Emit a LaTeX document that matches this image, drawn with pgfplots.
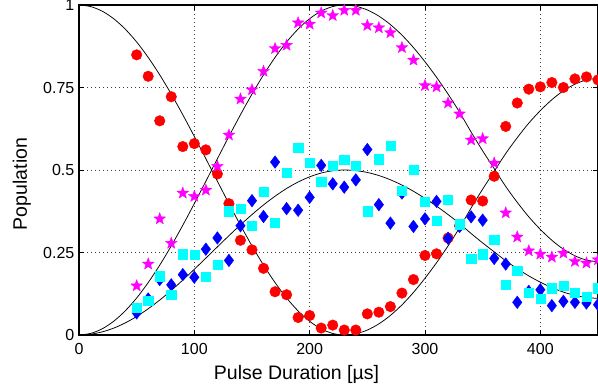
\documentclass[border=0pt]{standalone}
\usepackage{fontspec}
\setmainfont{Liberation Sans}
\usepackage{pgfplots}
\usepackage{pgfplotstable}
\pgfplotsset{compat=1.18}
\definecolor{mred}{RGB}{255,0,0}
\definecolor{mmag}{RGB}{255,0,255}
\definecolor{mblue}{RGB}{0,0,255}
\definecolor{mcyan}{RGB}{0,255,255}
\pgfdeclareplotmark{fstar}{%
  \pgfpathmoveto{\pgfqpointpolar{90}{\pgfplotmarksize}}%
  \pgfpathlineto{\pgfqpointpolar{126}{0.42\pgfplotmarksize}}%
  \pgfpathlineto{\pgfqpointpolar{162}{\pgfplotmarksize}}%
  \pgfpathlineto{\pgfqpointpolar{198}{0.42\pgfplotmarksize}}%
  \pgfpathlineto{\pgfqpointpolar{234}{\pgfplotmarksize}}%
  \pgfpathlineto{\pgfqpointpolar{270}{0.42\pgfplotmarksize}}%
  \pgfpathlineto{\pgfqpointpolar{306}{\pgfplotmarksize}}%
  \pgfpathlineto{\pgfqpointpolar{342}{0.42\pgfplotmarksize}}%
  \pgfpathlineto{\pgfqpointpolar{18}{\pgfplotmarksize}}%
  \pgfpathlineto{\pgfqpointpolar{54}{0.42\pgfplotmarksize}}%
  \pgfpathclose
  \pgfusepathqfillstroke
}
\pgfplotstableread{
x red mag blue cyan
50 0.849 0.149 0.067 0.082
60 0.784 0.215 0.109 0.105
70 0.649 0.352 0.168 0.178
80 0.722 0.278 0.152 0.122
90 0.571 0.430 0.183 0.245
100 0.580 0.420 0.175 0.243
110 0.561 0.439 0.260 0.176
120 0.488 0.511 0.294 0.213
130 0.398 0.606 0.226 0.375
140 0.287 0.715 0.331 0.382
150 0.258 0.743 0.407 0.332
160 0.202 0.799 0.359 0.435
170 0.131 0.868 0.524 0.340
180 0.122 0.878 0.383 0.492
190 0.053 0.946 0.378 0.567
200 0.059 0.942 0.417 0.522
210 0.021 0.976 0.514 0.464
220 0.030 0.968 0.458 0.512
230 0.015 0.984 0.448 0.532
240 0.015 0.984 0.470 0.513
250 0.064 0.938 0.562 0.375
260 0.069 0.931 0.395 0.533
270 0.086 0.916 0.339 0.574
280 0.127 0.871 0.430 0.437
290 0.168 0.833 0.329 0.501
300 0.241 0.756 0.352 0.403
310 0.246 0.752 0.405 0.347
320 0.294 0.703 0.293 0.410
330 0.331 0.670 0.329 0.336
340 0.409 0.591 0.358 0.231
350 0.406 0.595 0.348 0.245
360 0.481 0.521 0.232 0.289
370 0.632 0.370 0.215 0.152
380 0.703 0.297 0.099 0.196
390 0.745 0.255 0.132 0.127
400 0.752 0.245 0.137 0.109
410 0.765 0.236 0.089 0.142
420 0.750 0.248 0.102 0.149
430 0.776 0.223 0.099 0.127
440 0.782 0.218 0.097 0.117
450 0.773 0.228 0.092 0.142
}\pts
\pgfplotstableread{
x A B C
0 1.0 0 0
10 0.9953 0.0047 0.0024
20 0.9815 0.0185 0.0093
30 0.9586 0.0414 0.0207
40 0.9272 0.0728 0.0364
50 0.8879 0.1121 0.0561
60 0.8412 0.1588 0.0794
70 0.7883 0.2117 0.1059
80 0.7300 0.2700 0.1350
90 0.6674 0.3326 0.1663
100 0.6017 0.3983 0.1992
110 0.5341 0.4659 0.2330
120 0.4659 0.5341 0.2671
130 0.3983 0.6017 0.3009
140 0.3326 0.6674 0.3337
150 0.2700 0.7300 0.3650
160 0.2117 0.7883 0.3942
170 0.1588 0.8412 0.4206
180 0.1121 0.8879 0.4440
190 0.0728 0.9272 0.4636
200 0.0414 0.9586 0.4793
210 0.0185 0.9815 0.4908
220 0.0047 0.9953 0.4977
230 0.0 1.0 0.5
240 0.0038 0.9962 0.4981
250 0.0150 0.9850 0.4925
260 0.0337 0.9663 0.4832
270 0.0593 0.9407 0.4704
280 0.0912 0.9088 0.4544
290 0.1290 0.8710 0.4355
300 0.1720 0.8280 0.4140
310 0.2190 0.7810 0.3905
320 0.2700 0.7300 0.3650
330 0.3250 0.6750 0.3375
340 0.3850 0.6150 0.3075
350 0.4420 0.5580 0.2790
360 0.4960 0.5040 0.2520
370 0.5500 0.4500 0.2250
380 0.5980 0.4020 0.2010
390 0.6420 0.3580 0.1790
400 0.6800 0.3200 0.1600
410 0.7130 0.2870 0.1435
420 0.7400 0.2600 0.1300
430 0.7600 0.2400 0.1200
440 0.7730 0.2270 0.1135
450 0.7780 0.2220 0.1110
}\curves
\begin{document}
\begin{tikzpicture}
\useasboundingbox (-79pt,-55pt) rectangle (519pt,335pt);
\begin{axis}[
  at={(0pt,0pt)}, anchor=south west,
  width=519pt, height=330pt, scale only axis,
  xmin=0, xmax=450, ymin=0, ymax=1,
  xtick={0,100,200,300,400}, ytick={0,0.25,0.5,0.75,1},
  /pgf/number format/assume math mode=true,
  tick align=inside, major tick length=5pt,
  tick style={black, line width=0.6pt},
  grid=major,
  major grid style={dash pattern=on 0.8pt off 3.2pt, black!75, line width=0.6pt},
  axis line style={line width=1.1pt},
  tick label style={font=\fontsize{16}{19}\selectfont},
  yticklabel style={anchor=east, inner sep=0pt, xshift=-4.5pt},
  xticklabel style={anchor=north, inner sep=0pt, yshift=-8.5pt},
  clip=true,
]
\addplot[only marks, mark=*, mark size=5.3pt, mred, mark options={fill=mred, draw=mred}] table[x=x, y=red] {\pts};
\addplot[only marks, mark=fstar, mark size=6.2pt, mmag, mark options={fill=mmag, draw=mmag, line width=0.3pt}] table[x=x, y=mag] {\pts};
\addplot[only marks, mark=diamond*, mark size=6.3pt, mblue, mark options={fill=mblue, draw=mblue}] table[x=x, y=blue] {\pts};
\addplot[only marks, mark=square*, mark size=4.6pt, mcyan, mark options={fill=mcyan, draw=mcyan}] table[x=x, y=cyan] {\pts};
\addplot[black, line width=0.75pt, smooth, no marks] table[x=x, y=A] {\curves};
\addplot[black, line width=0.75pt, smooth, no marks] table[x=x, y=B] {\curves};
\addplot[black, line width=0.75pt, smooth, no marks] table[x=x, y=C] {\curves};
\end{axis}
\node[rotate=90, anchor=base, font=\fontsize{19.5}{23}\selectfont] at (-52pt,151pt) {Population};
\node[anchor=base, font=\fontsize{19.5}{23}\selectfont] at (217.5pt,-45pt) {Pulse Duration [µs]};
\end{tikzpicture}
\end{document}
